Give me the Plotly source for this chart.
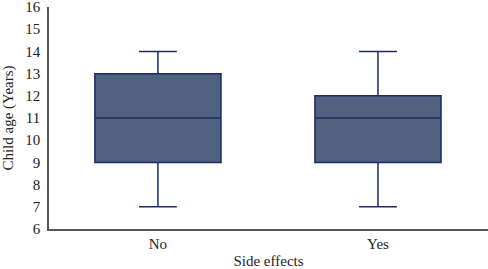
import plotly.graph_objects as go

categories = ["No", "Yes"]
q1 = [9, 9]
median = [11, 11]
q3 = [13, 12]
lowerfence = [7, 7]
upperfence = [14, 14]

fig = go.Figure()
fig.add_trace(go.Box(
    x=categories, q1=q1, median=median, q3=q3,
    lowerfence=lowerfence, upperfence=upperfence,
    fillcolor="#50607f", line=dict(color="#1c2a66", width=1.5),
    width=0.573, whiskerwidth=0.3, boxpoints=False, showlegend=False,
    hoverinfo="skip",
))
font = "Liberation Serif"
fig.update_layout(
    width=488, height=269,
    margin=dict(l=49, r=0, t=7, b=40),
    plot_bgcolor="white", paper_bgcolor="white",
    font=dict(family=font, size=15, color="#222"),
    xaxis=dict(range=[-0.495, 1.5], showline=True, linecolor="#555", linewidth=1.5,
               showgrid=False, ticks="", zeroline=False, automargin=False,
               title=dict(text="Side effects", font=dict(size=15), standoff=8)),
    yaxis=dict(range=[6, 16.002], tickvals=list(range(6, 17)), showline=True, linecolor="#555", linewidth=1.5,
               showgrid=False, ticks="", zeroline=False, ticklabelstandoff=4, automargin=False,
               ticklabeloverflow="allow",
               title=dict(text="Child age (Years)", font=dict(size=15), standoff=8)),
)
fig.write_html("out.html", config={"displayModeBar": False},
               post_script="document.body.style.margin='0';document.body.style.overflow='hidden';")
